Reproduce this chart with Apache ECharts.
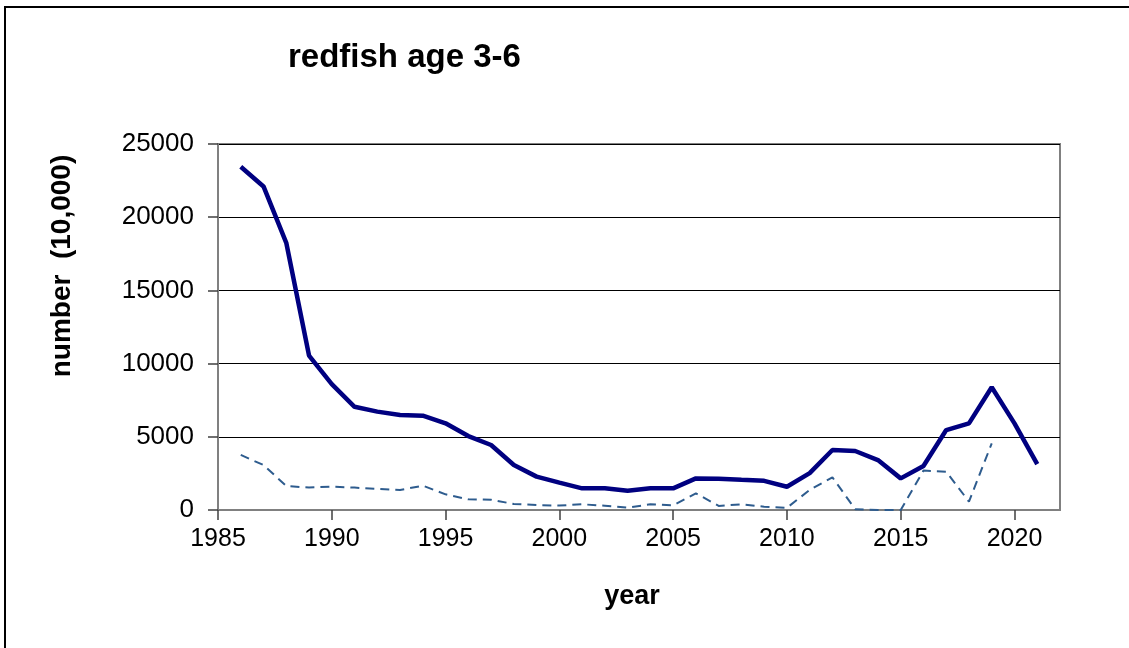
<!DOCTYPE html>
<html>
<head>
<meta charset="utf-8">
<script src="https://cdn.jsdelivr.net/npm/echarts@6/dist/echarts.min.js"></script>
<style>html,body{margin:0;padding:0;background:#fff;}#c{width:1129px;height:648px;}</style>
</head>
<body>
<div id="c"></div>
<script>
var years = [1986,1987,1988,1989,1990,1991,1992,1993,1994,1995,1996,1997,1998,1999,2000,2001,2002,2003,2004,2005,2006,2007,2008,2009,2010,2011,2012,2013,2014,2015,2016,2017,2018,2019,2020,2021];
var mainSeries = [23450,22100,18250,10550,8600,7050,6720,6490,6440,5920,5050,4440,3070,2280,1870,1480,1480,1320,1480,1480,2160,2140,2060,1990,1590,2520,4100,4030,3410,2160,3010,5460,5920,8380,5920,3140];
var dashedSeries = [3760,3070,1640,1530,1600,1530,1440,1370,1660,1070,730,700,410,340,300,390,290,160,390,320,1140,280,390,230,150,1370,2230,50,0,0,2690,2620,570,4550,null,null];
var yTicks = [0,5000,10000,15000,20000,25000];

function pairs(vals){ return years.map(function(y,i){ return [y, vals[i]]; }); }

var chart = echarts.init(document.getElementById('c'), null, {renderer:'canvas'});
chart.setOption({
  backgroundColor:'#fff',
  animation:false,
  title:{text:'redfish age 3-6', left:283, top:36,
    textStyle:{fontFamily:'Liberation Sans, Arial', fontWeight:'bold', fontSize:33, color:'#000'}},
  grid:{left:218, top:144, width:842, height:366, show:true, borderColor:'#808080', borderWidth:2, backgroundColor:'transparent'},
  xAxis:{type:'value', min:1985, max:2022, interval:5,
    axisLine:{show:true, onZero:false, lineStyle:{color:'#808080', width:2}},
    axisTick:{show:true, inside:false, length:10, lineStyle:{color:'#404040', width:1.5}},
    axisLabel:{show:true, margin:17, fontFamily:'Liberation Sans, Arial', fontSize:25, color:'#000',
      showMaxLabel:false,
      formatter:function(v){ return (v % 5 === 0) ? String(v) : ''; }},
    splitLine:{show:false}},
  yAxis:{type:'value', min:0, max:25000, interval:5000,
    axisLine:{show:true, lineStyle:{color:'#808080', width:2}},
    axisTick:{show:true, inside:false, length:10, lineStyle:{color:'#404040', width:1.5}},
    axisLabel:{show:true, margin:24, fontFamily:'Liberation Sans, Arial', fontSize:26, color:'#000',
      formatter:function(v){ return yTicks.indexOf(v) >= 0 ? String(v) : ''; }},
    splitLine:{show:true, lineStyle:{color:'#000', width:1.2}}},
  graphic:[
    {type:'line', shape:{x1:4, y1:7, x2:1129, y2:7}, style:{stroke:'#000', lineWidth:2}},
    {type:'line', shape:{x1:5, y1:7, x2:5, y2:648}, style:{stroke:'#000', lineWidth:2}},
    {type:'text', x:62, y:266, rotation:Math.PI/2,
      style:{text:'number  (10,000)', fill:'#000', font:'bold 28px "Liberation Sans", Arial', textAlign:'center', textVerticalAlign:'middle'}},
    {type:'text', x:632, y:597,
      style:{text:'year', fill:'#000', font:'bold 27px "Liberation Sans", Arial', textAlign:'center', textVerticalAlign:'middle'}}
  ],
  series:[
    {type:'line', data:pairs(mainSeries), symbol:'none', lineStyle:{color:'#000080', width:4.5}, z:3},
    {type:'line', data:pairs(dashedSeries), symbol:'none', connectNulls:false, lineStyle:{color:'#2E5C8E', width:2, type:[9,6]}, z:2}
  ]
});
</script>
</body>
</html>
